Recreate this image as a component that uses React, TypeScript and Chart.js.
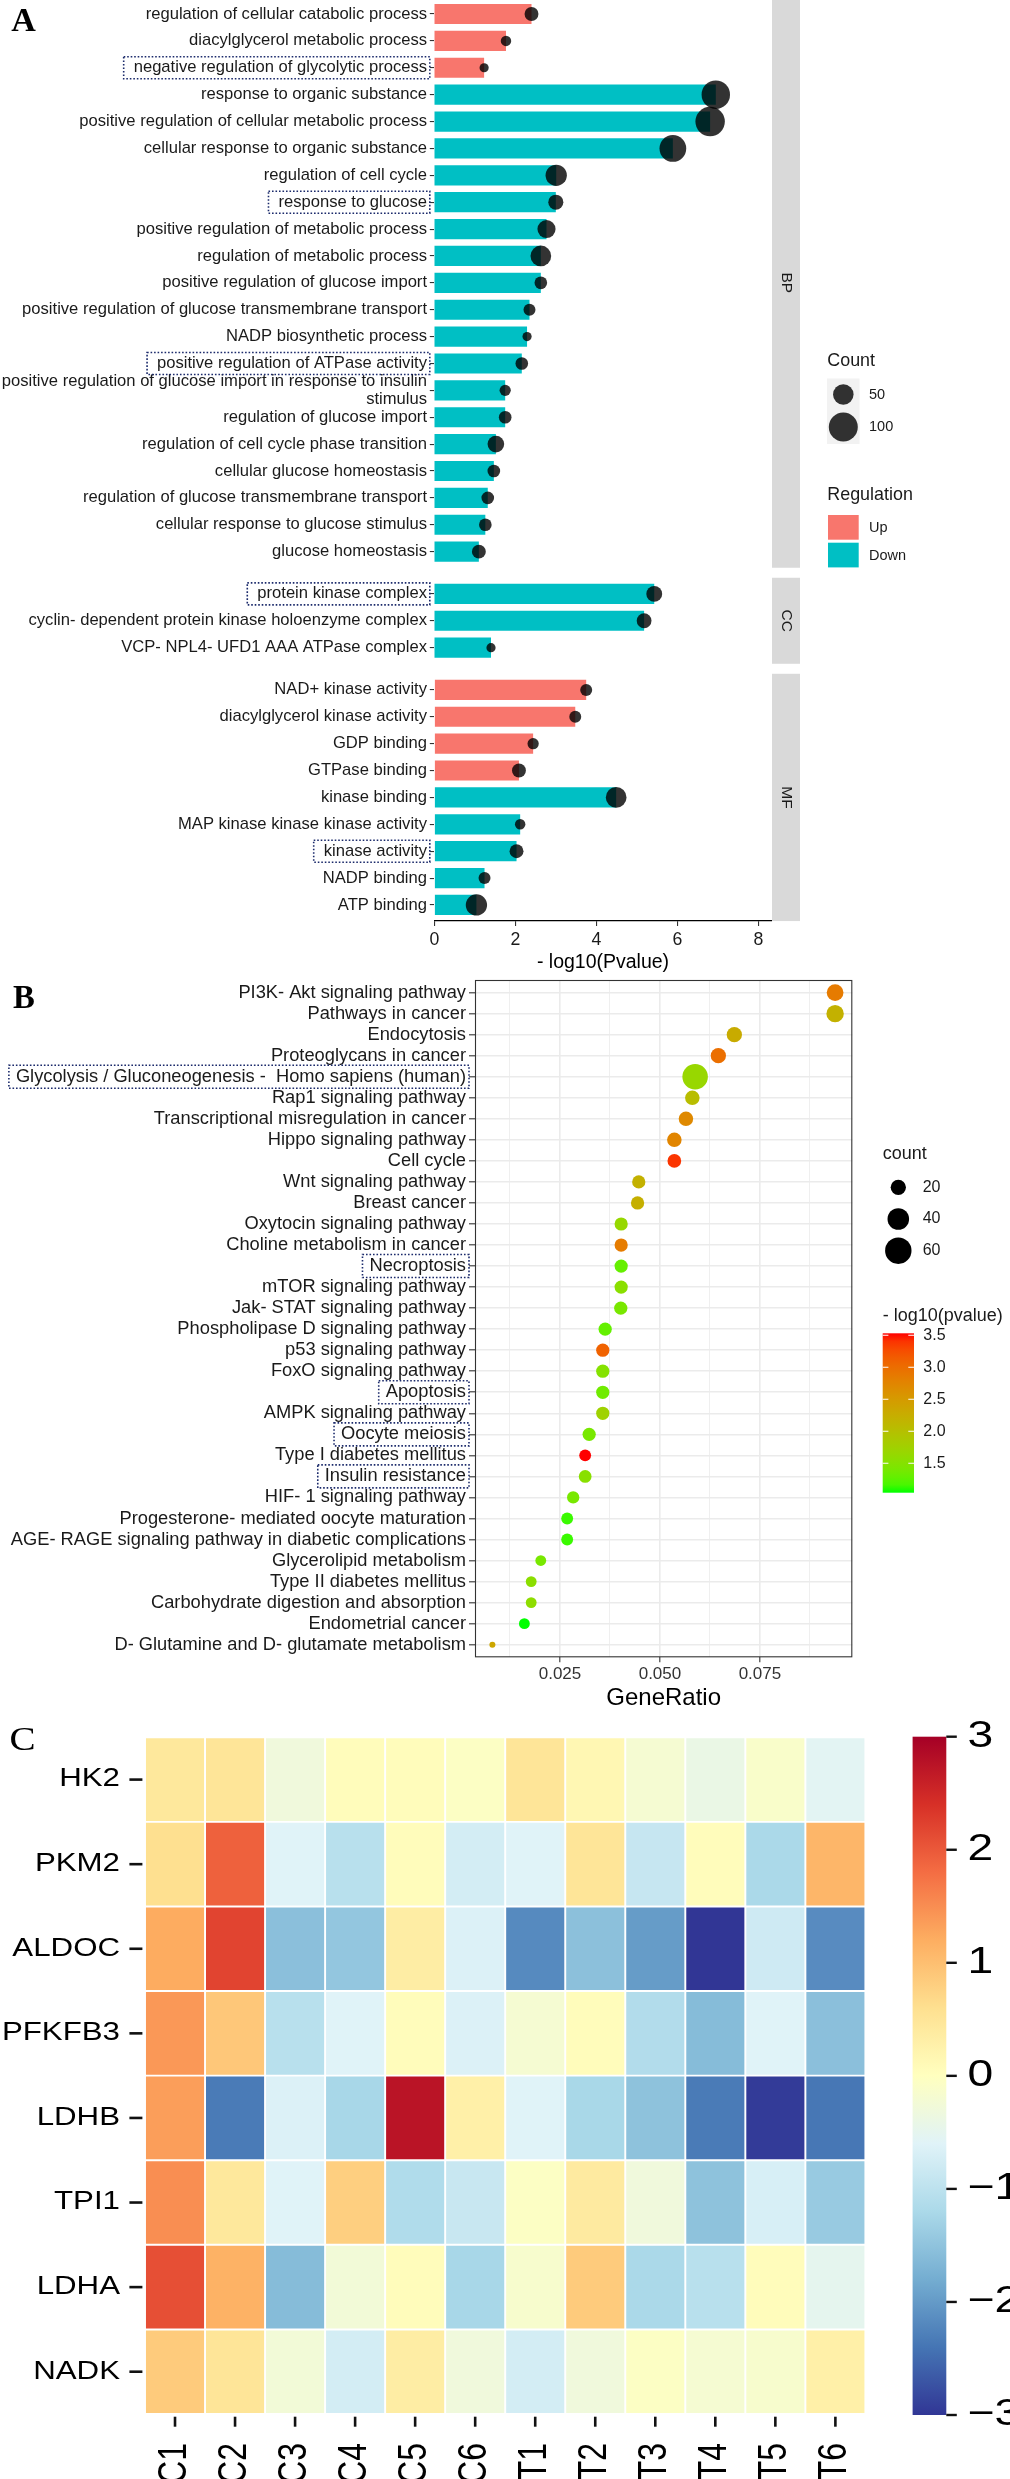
import React, { useEffect, useRef } from 'react';
import { Chart, registerables } from 'chart.js';

Chart.register(...registerables);

const FONT = "'Liberation Sans', Arial, Helvetica, sans-serif";
const SERIF = "'Liberation Serif', 'Times New Roman', serif";
Chart.defaults.font.family = FONT;

// ================= Panel A : GO enrichment =================
const BP_TERMS = [
  'regulation of cellular catabolic process',
  'diacylglycerol metabolic process',
  'negative regulation of glycolytic process',
  'response to organic substance',
  'positive regulation of cellular metabolic process',
  'cellular response to organic substance',
  'regulation of cell cycle',
  'response to glucose',
  'positive regulation of metabolic process',
  'regulation of metabolic process',
  'positive regulation of glucose import',
  'positive regulation of glucose transmembrane transport',
  'NADP biosynthetic process',
  'positive regulation of ATPase activity',
  'positive regulation of glucose import in response to insulin\nstimulus',
  'regulation of glucose import',
  'regulation of cell cycle phase transition',
  'cellular glucose homeostasis',
  'regulation of glucose transmembrane transport',
  'cellular response to glucose stimulus',
  'glucose homeostasis',
];
const BP_LOGP = [2.40, 1.77, 1.23, 6.95, 6.81, 5.89, 3.01, 3.00, 2.77, 2.63, 2.63, 2.35, 2.29, 2.16, 1.75, 1.75, 1.52, 1.47, 1.32, 1.26, 1.10];
const BP_COUNT = [23, 13, 10, 96, 103, 85, 54, 27, 39, 51, 19, 17, 10, 19, 15, 19, 33, 19, 19, 19, 23];
const BP_REG = ['Up', 'Up', 'Up', 'Down', 'Down', 'Down', 'Down', 'Down', 'Down', 'Down', 'Down', 'Down', 'Down', 'Down', 'Down', 'Down', 'Down', 'Down', 'Down', 'Down', 'Down'];

const CC_TERMS = [
  'protein kinase complex',
  'cyclin- dependent protein kinase holoenzyme complex',
  'VCP- NPL4- UFD1 AAA ATPase complex',
];
const CC_LOGP = [5.43, 5.18, 1.40];
const CC_COUNT = [30, 26, 10];
const CC_REG = ['Down', 'Down', 'Down'];

const MF_TERMS = [
  'NAD+ kinase activity',
  'diacylglycerol kinase activity',
  'GDP binding',
  'GTPase binding',
  'kinase binding',
  'MAP kinase kinase kinase activity',
  'kinase activity',
  'NADP binding',
  'ATP binding',
];
const MF_LOGP = [3.75, 3.48, 2.44, 2.09, 4.49, 2.12, 2.03, 1.24, 1.04];
const MF_COUNT = [17, 17, 15, 23, 51, 13, 23, 17, 54];
const MF_REG = ['Up', 'Up', 'Up', 'Up', 'Down', 'Down', 'Down', 'Down', 'Down'];

const GO_BOXED = [
  'negative regulation of glycolytic process',
  'response to glucose',
  'positive regulation of ATPase activity',
  'protein kinase complex',
  'kinase activity',
];
const A_XTICKS = [0, 2, 4, 6, 8];
const A_COUNT_BREAKS = [50, 100];
const REG_LEVELS = ['Up', 'Down'];

// ================= Panel B : KEGG dot plot =================
const KEGG_TERMS = [
  'PI3K- Akt signaling pathway',
  'Pathways in cancer',
  'Endocytosis',
  'Proteoglycans in cancer',
  'Glycolysis / Gluconeogenesis -  Homo sapiens (human)',
  'Rap1 signaling pathway',
  'Transcriptional misregulation in cancer',
  'Hippo signaling pathway',
  'Cell cycle',
  'Wnt signaling pathway',
  'Breast cancer',
  'Oxytocin signaling pathway',
  'Choline metabolism in cancer',
  'Necroptosis',
  'mTOR signaling pathway',
  'Jak- STAT signaling pathway',
  'Phospholipase D signaling pathway',
  'p53 signaling pathway',
  'FoxO signaling pathway',
  'Apoptosis',
  'AMPK signaling pathway',
  'Oocyte meiosis',
  'Type I diabetes mellitus',
  'Insulin resistance',
  'HIF- 1 signaling pathway',
  'Progesterone- mediated oocyte maturation',
  'AGE- RAGE signaling pathway in diabetic complications',
  'Glycerolipid metabolism',
  'Type II diabetes mellitus',
  'Carbohydrate digestion and absorption',
  'Endometrial cancer',
  'D- Glutamine and D- glutamate metabolism',
];
const KEGG_RATIO = [0.0938, 0.0938, 0.0686, 0.0646, 0.0588, 0.0581, 0.0565, 0.0536, 0.0536, 0.0447, 0.0444, 0.0403, 0.0403, 0.0403, 0.0403, 0.0402, 0.0363, 0.0357, 0.0357, 0.0357, 0.0357, 0.0323, 0.0313, 0.0313, 0.0283, 0.0268, 0.0268, 0.0202, 0.0178, 0.0178, 0.0161, 0.0081];
const KEGG_LOGP = [2.86, 2.20, 2.28, 2.98, 1.66, 2.04, 2.71, 2.75, 3.40, 2.20, 2.23, 1.65, 2.85, 1.29, 1.54, 1.41, 1.28, 3.10, 1.50, 1.35, 1.74, 1.40, 3.53, 1.53, 1.40, 1.12, 1.12, 1.40, 1.55, 1.57, 1.04, 2.35];
const KEGG_COUNT = [24, 26, 20, 20, 56, 18, 18, 18, 16, 15, 15, 15, 15, 15, 15, 15, 15, 15, 15, 15, 15, 15, 12, 14, 13, 12, 12, 10, 10, 10, 10, 3];
const KEGG_BOXED = [
  'Glycolysis / Gluconeogenesis -  Homo sapiens (human)',
  'Necroptosis',
  'Apoptosis',
  'Oocyte meiosis',
  'Insulin resistance',
];
const RATIO_TICKS = [0.0125, 0.025, 0.0375, 0.05, 0.0625, 0.075, 0.0875];
const RATIO_MAJOR = [0.025, 0.05, 0.075];
const B_COUNT_BREAKS = [20, 40, 60];
const PVAL_BREAKS = [3.5, 3.0, 2.5, 2.0, 1.5];

// ================= Panel C : heatmap =================
const SAMPLES = ['C1', 'C2', 'C3', 'C4', 'C5', 'C6', 'T1', 'T2', 'T3', 'T4', 'T5', 'T6'];
const GENES = ['HK2', 'PKM2', 'ALDOC', 'PFKFB3', 'LDHB', 'TPI1', 'LDHA', 'NADK'];
const HEAT_HK2 = [0.45, 0.5, -0.3, 0.05, 0.05, -0.05, 0.5, 0.15, -0.2, -0.4, -0.12, -0.55];
const HEAT_PKM2 = [0.6, 1.92, -0.6, -1.05, 0.05, -0.75, -0.6, 0.5, -0.9, 0.05, -1.2, 1.1];
const HEAT_ALDOC = [1.22, 2.2, -1.55, -1.46, 0.35, -0.65, -2.18, -1.54, -1.98, -3.0, -0.8, -2.16];
const HEAT_PFKFB3 = [1.4, 0.9, -1.05, -0.6, 0.05, -0.65, -0.2, 0.05, -1.12, -1.6, -0.6, -1.55];
const HEAT_LDHB = [1.35, -2.34, -0.65, -1.23, 2.75, 0.3, -0.6, -1.22, -1.52, -2.34, -2.95, -2.38];
const HEAT_TPI1 = [1.5, 0.45, -0.6, 0.8, -1.14, -0.87, -0.05, 0.4, -0.3, -1.52, -0.7, -1.41];
const HEAT_LDHA = [2.1, 1.15, -1.6, -0.25, 0.05, -1.23, -0.15, 0.85, -1.2, -1.05, 0.05, -0.5];
const HEAT_NADK = [0.85, 0.5, -0.25, -0.75, 0.35, -0.3, -0.75, -0.3, -0.05, -0.2, -0.15, 0.3];
const HEAT_ROWS = [HEAT_HK2, HEAT_PKM2, HEAT_ALDOC, HEAT_PFKFB3, HEAT_LDHB, HEAT_TPI1, HEAT_LDHA, HEAT_NADK];
const HEAT_BREAKS = [3, 2, 1, 0, -1, -2, -3];
const RDYLBU = ['#313695', '#4575B4', '#74ADD1', '#ABD9E9', '#E0F3F8', '#FFFFBF', '#FEE090', '#FDAE61', '#F46D43', '#D73027', '#A50026'];

// ================= layout / style =================
const W = 1010;
const PAGE_H = 2479;
const REG_COLOR: Record<string, string> = { Up: '#F8766D', Down: '#00BFC4' };

const A_LEFT = 434.3;
const A_RIGHT = 771.7;
const A_ROW = 26.88;
const A_EXPAND = 0.6;
const A_GAP = 10;
const A_TOP0 = -2.1;
const A_XAXIS_H = 52;
const A_XMAX = 8.33;
const A_LABEL = 16.6;

const B_TOP = 960;
const B_H = 760;
const B_PLOT_TOP = 980;
const B_PLOT_BOTTOM = 1657.3;
const B_LEFT = 475;
const B_RIGHT = 852.3;
const B_XMIN = 0.00375;
const B_XMAX = 0.0981;
const B_LABEL = 18.3;

const C_TOP = 1720;
const C_LEFT = 145;
const C_RIGHT = 865.4;
const C_PLOT_TOP = 1737.3;
const C_PLOT_BOTTOM = 2414;
const C_STRETCH = 1.25;

const FACETS = [
  { name: 'BP', terms: BP_TERMS, logp: BP_LOGP, count: BP_COUNT, reg: BP_REG },
  { name: 'CC', terms: CC_TERMS, logp: CC_LOGP, count: CC_COUNT, reg: CC_REG },
  { name: 'MF', terms: MF_TERMS, logp: MF_LOGP, count: MF_COUNT, reg: MF_REG },
];

const A_LAYOUT = (() => {
  let y = A_TOP0;
  return FACETS.map((f, k) => {
    const ph = (f.terms.length - 1 + 2 * A_EXPAND) * A_ROW;
    const last = k === FACETS.length - 1;
    const top = Math.floor(y);
    const padTop = y - top;
    const h = Math.ceil(padTop + ph + (last ? A_XAXIS_H : 3));
    y += ph + A_GAP;
    return { top, padTop, ph, h, last };
  });
})();

// ================= helpers =================
const radiusA = (c: number) => 1.45 * Math.sqrt(c);
const radiusB = (c: number) => Math.sqrt(9 + 2.9 * (c - 3));

function zeroPad(s: any) {
  s.paddingTop = 0;
  s.paddingBottom = 0;
  s.paddingLeft = 0;
  s.paddingRight = 0;
}

function hexToRgb(h: string) {
  const n = parseInt(h.slice(1), 16);
  return [(n >> 16) & 255, (n >> 8) & 255, n & 255];
}
function toLin(c: number) { c /= 255; return c <= 0.04045 ? c / 12.92 : Math.pow((c + 0.055) / 1.055, 2.4); }
function fromLin(c: number) {
  const v = c <= 0.0031308 ? 12.92 * c : 1.055 * Math.pow(c, 1 / 2.4) - 0.055;
  return Math.round(Math.max(0, Math.min(1, v)) * 255);
}
const XN = 0.95047, YN = 1, ZN = 1.08883;
function rgbToLab(rgb: number[]) {
  const R = toLin(rgb[0]), G = toLin(rgb[1]), B = toLin(rgb[2]);
  const X = (0.4124 * R + 0.3576 * G + 0.1805 * B) / XN;
  const Y = (0.2126 * R + 0.7152 * G + 0.0722 * B) / YN;
  const Z = (0.0193 * R + 0.1192 * G + 0.9505 * B) / ZN;
  const f = (t: number) => (t > 0.008856 ? Math.cbrt(t) : 7.787 * t + 16 / 116);
  const fx = f(X), fy = f(Y), fz = f(Z);
  return [116 * fy - 16, 500 * (fx - fy), 200 * (fy - fz)];
}
function labToRgb(lab: number[]) {
  const fy = (lab[0] + 16) / 116;
  const fx = fy + lab[1] / 500;
  const fz = fy - lab[2] / 200;
  const inv = (t: number) => (t * t * t > 0.008856 ? t * t * t : (t - 16 / 116) / 7.787);
  const X = XN * inv(fx), Y = YN * inv(fy), Z = ZN * inv(fz);
  const R = 3.2406 * X - 1.5372 * Y - 0.4986 * Z;
  const G = -0.9689 * X + 1.8758 * Y + 0.0415 * Z;
  const B = 0.0557 * X - 0.204 * Y + 1.057 * Z;
  return [fromLin(R), fromLin(G), fromLin(B)];
}
const LAB_LOW = rgbToLab([0, 255, 0]);
const LAB_HIGH = rgbToLab([255, 0, 0]);
const P_MIN = Math.min(...KEGG_LOGP);
const P_MAX = Math.max(...KEGG_LOGP);
function pColor(v: number) {
  const t = Math.max(0, Math.min(1, (v - P_MIN) / (P_MAX - P_MIN)));
  const c = labToRgb(LAB_LOW.map((a, k) => a + (LAB_HIGH[k] - a) * t));
  return `rgb(${c[0]},${c[1]},${c[2]})`;
}
function heatColor(v: number) {
  const p = ((Math.max(-3, Math.min(3, v)) + 3) / 6) * (RDYLBU.length - 1);
  const i = Math.min(RDYLBU.length - 2, Math.floor(p));
  const t = p - i;
  const a = hexToRgb(RDYLBU[i]), b = hexToRgb(RDYLBU[i + 1]);
  const c = a.map((x, k) => Math.round(x + (b[k] - x) * t));
  return `rgb(${c[0]},${c[1]},${c[2]})`;
}

function letterPlugin(letter: string, x: number, baseY: number, canvasTop: number, font: string, stretch = 1) {
  return {
    id: 'letter' + letter,
    afterDraw(chart: any) {
      const ctx = chart.ctx;
      ctx.save();
      ctx.translate(x, baseY - canvasTop);
      ctx.scale(stretch, 1);
      ctx.font = font;
      ctx.fillStyle = '#000';
      ctx.textAlign = 'left';
      ctx.textBaseline = 'alphabetic';
      ctx.fillText(letter, 0, 0);
      ctx.restore();
    },
  };
}

function boxPlugin(terms: string[], boxed: string[], size: number, textGap: number, padL: number, rightGap: number, h: number) {
  return {
    id: 'boxes',
    afterDraw(chart: any) {
      const ctx = chart.ctx;
      const ys = chart.scales.y;
      const left = chart.chartArea.left;
      ctx.save();
      ctx.font = `${size}px ${FONT}`;
      ctx.strokeStyle = '#1B2A6B';
      ctx.lineWidth = 1.6;
      ctx.setLineDash([1.6, 1.9]);
      terms.forEach((t, i) => {
        if (!boxed.includes(t)) return;
        const y = ys.getPixelForValue(i);
        const w = ctx.measureText(t).width;
        const textRight = left - textGap;
        const x0 = textRight - w - padL;
        ctx.strokeRect(x0, y - h / 2, left - rightGap - x0, h);
      });
      ctx.restore();
    },
  };
}

function stripPlugin(label: string) {
  return {
    id: 'strip',
    afterDraw(chart: any) {
      const { ctx, chartArea: a } = chart;
      ctx.save();
      ctx.fillStyle = '#D9D9D9';
      ctx.fillRect(a.right + 0.3, a.top, 28, a.bottom - a.top);
      ctx.translate(a.right + 0.3 + 14, (a.top + a.bottom) / 2);
      ctx.rotate(Math.PI / 2);
      ctx.fillStyle = '#1A1A1A';
      ctx.font = `15.5px ${FONT}`;
      ctx.textAlign = 'center';
      ctx.textBaseline = 'middle';
      ctx.fillText(label, 0, 0);
      ctx.restore();
    },
  };
}

function legendAPlugin(canvasTop: number) {
  return {
    id: 'legendA',
    afterDraw(chart: any) {
      const ctx = chart.ctx;
      const oy = -canvasTop;
      ctx.save();
      ctx.textBaseline = 'middle';
      ctx.textAlign = 'left';
      ctx.fillStyle = '#1A1A1A';
      ctx.font = `17.9px ${FONT}`;
      ctx.fillText('Count', 827.3, 360.7 + oy);
      ctx.fillStyle = '#F2F2F2';
      ctx.fillRect(827, 378.5 + oy, 32.5, 65.5);
      const keyY = [394.5, 427];
      A_COUNT_BREAKS.forEach((c, i) => {
        ctx.fillStyle = 'rgba(0,0,0,0.8)';
        ctx.beginPath();
        ctx.arc(843.3, keyY[i] + oy, radiusA(c), 0, Math.PI * 2);
        ctx.fill();
        ctx.fillStyle = '#1A1A1A';
        ctx.font = `14.5px ${FONT}`;
        ctx.fillText(String(c), 869, keyY[i] + oy);
      });
      ctx.font = `17.9px ${FONT}`;
      ctx.fillText('Regulation', 827.3, 495 + oy);
      const regY = [515, 542.7];
      REG_LEVELS.forEach((r, i) => {
        ctx.fillStyle = REG_COLOR[r];
        ctx.fillRect(828, regY[i] + oy, 30.7, 24.7);
        ctx.fillStyle = '#1A1A1A';
        ctx.font = `14.5px ${FONT}`;
        ctx.fillText(r, 869, regY[i] + 12.8 + oy);
      });
      ctx.restore();
    },
  };
}

function makeFacet(canvas: HTMLCanvasElement, f: any, lay: any, k: number) {
  const n = f.terms.length;
  const xAxisH = lay.h - lay.padTop - lay.ph;
  const plugins: any[] = [stripPlugin(f.name), boxPlugin(f.terms, GO_BOXED, A_LABEL, 7.3, 10, 4.5, 22)];
  if (k === 0) {
    plugins.push(legendAPlugin(lay.top));
    plugins.push(letterPlugin('A', 11.3, 30.7, lay.top, `bold 34px ${SERIF}`));
  }
  return new Chart(canvas, {
    type: 'bar',
    data: {
      datasets: [
        {
          type: 'bubble',
          data: f.logp.map((v: number, i: number) => ({ x: v, y: i, r: radiusA(f.count[i]) })),
          backgroundColor: 'rgba(0,0,0,0.8)',
          borderWidth: 0,
          hoverRadius: 0,
          order: 0,
          clip: false,
        } as any,
        {
          type: 'bar',
          data: f.logp.map((v: number, i: number) => ({ x: v, y: i })),
          backgroundColor: f.reg.map((r: string) => REG_COLOR[r]),
          borderWidth: 0,
          barPercentage: 0.75,
          categoryPercentage: 1,
          order: 1,
        } as any,
      ],
    },
    options: {
      indexAxis: 'y',
      responsive: false,
      animation: false,
      events: [],
      layout: { autoPadding: false, padding: { left: 0, top: lay.padTop, right: W - A_RIGHT, bottom: lay.last ? 0 : xAxisH } },
      plugins: { legend: { display: false }, tooltip: { enabled: false } },
      scales: {
        x: {
          type: 'linear',
          position: 'bottom',
          offset: false,
          min: 0,
          max: A_XMAX,
          display: lay.last,
          afterBuildTicks: (s: any) => { s.ticks = A_XTICKS.map((v) => ({ value: v })); },
          afterFit: (s: any) => { zeroPad(s); if (lay.last) s.height = xAxisH; },
          border: { display: true, color: '#000', width: 1.3 },
          grid: { display: true, offset: false, drawOnChartArea: false, drawTicks: true, tickLength: 5, color: '#333', lineWidth: 1.1 },
          ticks: { padding: 3, color: '#1A1A1A', font: { size: 17.7 }, maxRotation: 0, autoSkip: false },
          title: { display: true, text: '- log10(Pvalue)', color: '#000', font: { size: 19.5 }, padding: { top: 0, bottom: 0 } },
        },
        y: {
          type: 'linear',
          position: 'left',
          offset: false,
          reverse: true,
          min: -A_EXPAND,
          max: n - 1 + A_EXPAND,
          afterBuildTicks: (s: any) => { s.ticks = f.terms.map((_: string, i: number) => ({ value: i })); },
          afterFit: (s: any) => { zeroPad(s); s.width = A_LEFT; },
          border: { display: false },
          grid: { display: true, offset: false, drawOnChartArea: false, drawTicks: true, tickLength: 4.5, color: '#333', lineWidth: 1.1 },
          ticks: {
            autoSkip: false,
            padding: 2.8,
            color: '#1A1A1A',
            font: { size: A_LABEL, lineHeight: 1.07 },
            callback: (v: any) => { const t = f.terms[v]; return t ? t.split('\n') : ''; },
          },
        },
      },
    } as any,
    plugins,
  });
}

function legendBPlugin() {
  return {
    id: 'legendB',
    afterDraw(chart: any) {
      const ctx = chart.ctx;
      const oy = -B_TOP;
      ctx.save();
      ctx.textBaseline = 'middle';
      ctx.textAlign = 'left';
      ctx.fillStyle = '#1A1A1A';
      ctx.font = `18px ${FONT}`;
      ctx.fillText('count', 882.7, 1154 + oy);
      const keyY = [1187.3, 1219, 1250.7];
      B_COUNT_BREAKS.forEach((c, i) => {
        ctx.fillStyle = '#000';
        ctx.beginPath();
        ctx.arc(898.3, keyY[i] + oy, radiusB(c), 0, Math.PI * 2);
        ctx.fill();
        ctx.fillStyle = '#1A1A1A';
        ctx.font = `16px ${FONT}`;
        ctx.fillText(String(c), 922.7, keyY[i] + oy);
      });
      ctx.font = `18px ${FONT}`;
      ctx.fillText('- log10(pvalue)', 882.7, 1316 + oy);
      const cbTop = 1333.3 + oy, cbBot = 1492.7 + oy, cbL = 882.7, cbR = 914;
      const g = ctx.createLinearGradient(0, cbBot, 0, cbTop);
      for (let s = 0; s <= 20; s++) g.addColorStop(s / 20, pColor(P_MIN + ((P_MAX - P_MIN) * s) / 20));
      ctx.fillStyle = g;
      ctx.fillRect(cbL, cbTop, cbR - cbL, cbBot - cbTop);
      ctx.strokeStyle = '#fff';
      ctx.lineWidth = 1.1;
      ctx.font = `16px ${FONT}`;
      PVAL_BREAKS.forEach((v) => {
        const y = cbBot - ((v - P_MIN) / (P_MAX - P_MIN)) * (cbBot - cbTop);
        ctx.beginPath();
        ctx.moveTo(cbL, y); ctx.lineTo(cbL + 5.7, y);
        ctx.moveTo(cbR - 5.7, y); ctx.lineTo(cbR, y);
        ctx.stroke();
        ctx.fillStyle = '#1A1A1A';
        ctx.fillText(v.toFixed(1), 923.3, y);
      });
      ctx.restore();
    },
  };
}

const borderPlugin = {
  id: 'panelBorder',
  afterDraw(chart: any) {
    const { ctx, chartArea: a } = chart;
    ctx.save();
    ctx.strokeStyle = '#333';
    ctx.lineWidth = 1.1;
    ctx.strokeRect(a.left + 0.5, a.top + 0.5, a.right - a.left - 1, a.bottom - a.top - 1);
    ctx.restore();
  },
};

function makeKegg(canvas: HTMLCanvasElement) {
  const n = KEGG_TERMS.length;
  const xAxisH = B_H - (B_PLOT_BOTTOM - B_TOP);
  const isMajor = (v: number) => RATIO_MAJOR.includes(v);
  return new Chart(canvas, {
    type: 'bubble',
    data: {
      datasets: [
        {
          data: KEGG_RATIO.map((v, i) => ({ x: v, y: i, r: radiusB(KEGG_COUNT[i]) })),
          backgroundColor: KEGG_LOGP.map(pColor),
          borderWidth: 0,
          hoverRadius: 0,
          clip: false,
        } as any,
      ],
    },
    options: {
      responsive: false,
      animation: false,
      events: [],
      layout: { autoPadding: false, padding: { left: 0, top: B_PLOT_TOP - B_TOP, right: W - B_RIGHT, bottom: 0 } },
      plugins: { legend: { display: false }, tooltip: { enabled: false } },
      scales: {
        x: {
          type: 'linear',
          position: 'bottom',
          offset: false,
          min: B_XMIN,
          max: B_XMAX,
          afterBuildTicks: (s: any) => { s.ticks = RATIO_TICKS.map((v) => ({ value: v })); },
          afterFit: (s: any) => { zeroPad(s); s.height = xAxisH; },
          border: { display: false },
          grid: {
            color: '#EBEBEB',
            lineWidth: (c: any) => (c.tick && isMajor(c.tick.value) ? 1.6 : 0.8),
            tickColor: (c: any) => (c.tick && isMajor(c.tick.value) ? '#333' : 'rgba(0,0,0,0)'),
            tickWidth: 1.1,
            tickLength: 5,
            drawTicks: true,
          },
          ticks: {
            autoSkip: false,
            maxRotation: 0,
            padding: 1.5,
            color: '#333',
            font: { size: 17 },
            callback: (v: any) => (isMajor(v) ? Number(v).toFixed(3) : ''),
          },
          title: { display: true, text: 'GeneRatio', color: '#000', font: { size: 24 }, padding: { top: 0, bottom: 7.3 } },
        },
        y: {
          type: 'linear',
          position: 'left',
          offset: false,
          reverse: true,
          min: -0.6,
          max: n - 1 + 0.6,
          afterBuildTicks: (s: any) => { s.ticks = KEGG_TERMS.map((_, i) => ({ value: i })); },
          afterFit: (s: any) => { zeroPad(s); s.width = B_LEFT; },
          border: { display: false },
          grid: { color: '#EBEBEB', lineWidth: 1.6, tickColor: '#333', tickWidth: 1.1, tickLength: 6, drawTicks: true },
          ticks: {
            autoSkip: false,
            padding: 3,
            color: '#1A1A1A',
            font: { size: B_LABEL },
            callback: (v: any) => KEGG_TERMS[v] ?? '',
          },
        },
      },
    } as any,
    plugins: [
      borderPlugin,
      boxPlugin(KEGG_TERMS, KEGG_BOXED, B_LABEL, 9, 7, 6, 23),
      legendBPlugin(),
      letterPlugin('B', 13, 1008.3, B_TOP, `bold 32.7px ${SERIF}`),
    ],
  });
}

function heatDecorPlugin() {
  return {
    id: 'heatDecor',
    afterDraw(chart: any) {
      const ctx = chart.ctx;
      const xs = chart.scales.x, ys = chart.scales.y;
      const oy = -C_TOP;
      ctx.save();
      ctx.fillStyle = '#000';
      ctx.strokeStyle = '#111';
      GENES.forEach((g, r) => {
        const y = ys.getPixelForValue(r + 0.5);
        ctx.save();
        ctx.translate(120, y);
        ctx.scale(C_STRETCH, 1);
        ctx.font = `25px ${FONT}`;
        ctx.textAlign = 'right';
        ctx.textBaseline = 'middle';
        ctx.fillText(g, 0, 0);
        ctx.restore();
        ctx.lineWidth = 2.6;
        ctx.beginPath();
        ctx.moveTo(129.4, y); ctx.lineTo(142.4, y);
        ctx.stroke();
      });
      const bottom = chart.chartArea.bottom;
      SAMPLES.forEach((s, i) => {
        const x = xs.getPixelForValue(i);
        ctx.lineWidth = 2.6;
        ctx.beginPath();
        ctx.moveTo(x, bottom + 2.7); ctx.lineTo(x, bottom + 12.7);
        ctx.stroke();
        ctx.save();
        ctx.translate(x, bottom + 29);
        ctx.rotate(-Math.PI / 2);
        ctx.scale(1, C_STRETCH);
        ctx.font = `32px ${FONT}`;
        ctx.textAlign = 'right';
        ctx.textBaseline = 'middle';
        ctx.fillText(s, 0, 0);
        ctx.restore();
      });
      const cbL = 912.6, cbR = 946.3, cbT = 1736.7 + oy, cbB = 2415 + oy;
      const g = ctx.createLinearGradient(0, cbB, 0, cbT);
      RDYLBU.forEach((c, i) => g.addColorStop(i / (RDYLBU.length - 1), c));
      ctx.fillStyle = g;
      ctx.fillRect(cbL, cbT, cbR - cbL, cbB - cbT);
      HEAT_BREAKS.forEach((v) => {
        const y = cbT + ((3 - v) / 6) * (cbB - cbT);
        ctx.strokeStyle = '#111';
        ctx.lineWidth = 2.4;
        ctx.beginPath();
        ctx.moveTo(cbR, y); ctx.lineTo(cbR + 10.5, y);
        ctx.stroke();
        ctx.save();
        ctx.translate(967.5, y);
        ctx.scale(C_STRETCH, 1);
        ctx.fillStyle = '#000';
        ctx.font = `37px ${FONT}`;
        ctx.textAlign = 'left';
        ctx.textBaseline = 'middle';
        ctx.fillText(v < 0 ? '\u2212' + Math.abs(v) : String(v), 0, 0);
        ctx.restore();
      });
      ctx.restore();
    },
  };
}

function makeHeat(canvas: HTMLCanvasElement, h: number) {
  return new Chart(canvas, {
    type: 'bar',
    data: {
      labels: SAMPLES,
      datasets: GENES.map((g, r) => ({
        label: g,
        data: HEAT_ROWS[r].map(() => [r, r + 1]),
        backgroundColor: HEAT_ROWS[r].map(heatColor),
        borderColor: '#fff',
        borderWidth: 1.3,
        borderSkipped: false,
        grouped: false,
        barPercentage: 1,
        categoryPercentage: 1,
      })) as any,
    },
    options: {
      responsive: false,
      animation: false,
      events: [],
      layout: { autoPadding: false, padding: { left: C_LEFT, right: W - C_RIGHT, top: C_PLOT_TOP - C_TOP, bottom: h - (C_PLOT_BOTTOM - C_TOP) } },
      plugins: { legend: { display: false }, tooltip: { enabled: false } },
      scales: {
        x: { type: 'category', display: false, offset: true },
        y: { type: 'linear', display: false, offset: false, min: 0, max: GENES.length, reverse: true },
      },
    } as any,
    plugins: [heatDecorPlugin(), letterPlugin('C', 9.5, 1750, C_TOP, `34px ${SERIF}`, 1.15)],
  });
}

export default function App() {
  const r0 = useRef<HTMLCanvasElement>(null);
  const r1 = useRef<HTMLCanvasElement>(null);
  const r2 = useRef<HTMLCanvasElement>(null);
  const rb = useRef<HTMLCanvasElement>(null);
  const rc = useRef<HTMLCanvasElement>(null);
  const facetRefs = [r0, r1, r2];
  const cH = PAGE_H - C_TOP;

  useEffect(() => {
    const charts: Chart[] = [];
    FACETS.forEach((f, k) => {
      const c = facetRefs[k].current;
      if (c) charts.push(makeFacet(c, f, A_LAYOUT[k], k));
    });
    if (rb.current) charts.push(makeKegg(rb.current));
    if (rc.current) charts.push(makeHeat(rc.current, cH));
    return () => charts.forEach((c) => c.destroy());
  }, []);

  const cs = (top: number, h: number): React.CSSProperties => ({ position: 'absolute', left: 0, top, width: W, height: h, display: 'block' });

  return (
    <div style={{ position: 'absolute', left: 0, top: 0, width: W, height: PAGE_H, overflow: 'hidden', background: '#fff' }}>
      {A_LAYOUT.map((lay, k) => (
        <canvas key={k} ref={facetRefs[k]} width={W} height={lay.h} style={cs(lay.top, lay.h)} />
      ))}
      <canvas ref={rb} width={W} height={B_H} style={cs(B_TOP, B_H)} />
      <canvas ref={rc} width={W} height={cH} style={cs(C_TOP, cH)} />
    </div>
  );
}
